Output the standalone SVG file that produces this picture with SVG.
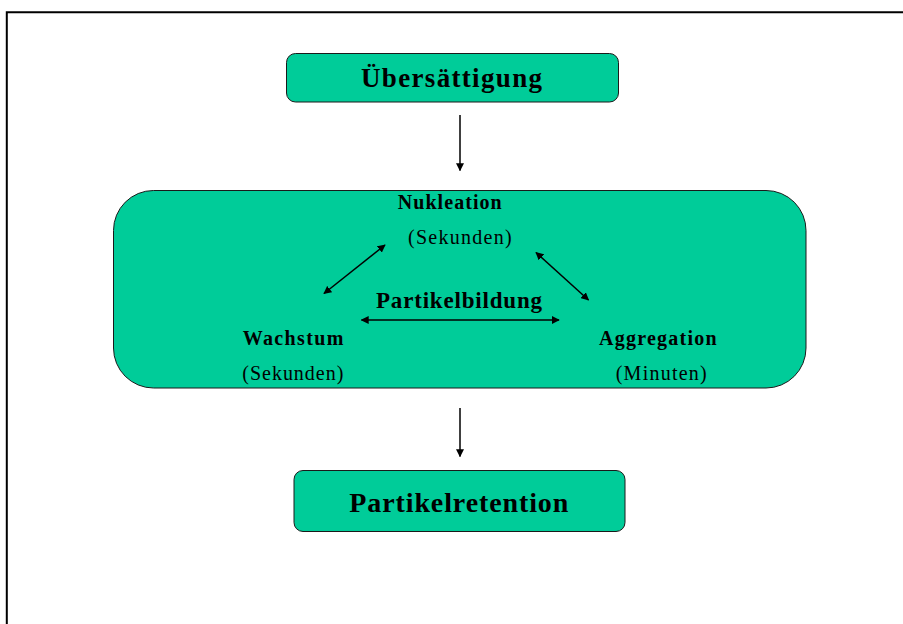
<svg xmlns="http://www.w3.org/2000/svg" width="903" height="624" viewBox="0 0 903 624">
<style>
.box{fill:#00CC99;stroke:#1a1a1a;stroke-width:1}
.t{font-family:"Liberation Serif","Times New Roman",serif;fill:#000;text-anchor:start}
.b{font-weight:bold}
.conn line{stroke:#000;stroke-width:1.5}
.frame{stroke:#000;stroke-width:2;fill:none}
</style>
<defs>
<marker id="ah" viewBox="0 0 10 10" refX="9" refY="5" markerWidth="8" markerHeight="8" markerUnits="userSpaceOnUse" orient="auto-start-reverse">
<path d="M0,0 L10,5 L0,10 z" fill="#000"/>
</marker>
</defs>
<rect width="903" height="624" fill="#fff"/>
<path class="frame" d="M6.8,624 V12.3 H903"/>
<g id="node-uebersaettigung">
<rect class="box" x="286.5" y="53.5" width="332" height="48.5" rx="9"/>
<text class="t b" x="361" y="86.7" font-size="27" textLength="181" lengthAdjust="spacing">Übersättigung</text>
</g>
<g id="node-partikelbildung">
<rect class="box" x="113.5" y="190.5" width="692.5" height="197.5" rx="40"/>
<text class="t b" x="376" y="308.3" font-size="23" textLength="166" lengthAdjust="spacing">Partikelbildung</text>
</g>
<g id="node-nukleation">
<text class="t b" x="397.7" y="209.3" font-size="20" textLength="104" lengthAdjust="spacing">Nukleation</text>
<text class="t" x="408" y="243.5" font-size="20" textLength="103.7" lengthAdjust="spacing">(Sekunden)</text>
</g>
<g id="node-wachstum">
<text class="t b" x="242.7" y="345" font-size="20" textLength="100.6" lengthAdjust="spacing">Wachstum</text>
<text class="t" x="242.3" y="380" font-size="20" textLength="101" lengthAdjust="spacing">(Sekunden)</text>
</g>
<g id="node-aggregation">
<text class="t b" x="599" y="345" font-size="20" textLength="117.7" lengthAdjust="spacing">Aggregation</text>
<text class="t" x="615.7" y="380" font-size="20" textLength="91" lengthAdjust="spacing">(Minuten)</text>
</g>
<g id="node-partikelretention">
<rect class="box" x="294" y="470.5" width="331" height="61" rx="9"/>
<text class="t b" x="349.3" y="511.7" font-size="28" textLength="219" lengthAdjust="spacing">Partikelretention</text>
</g>
<g id="connectors" class="conn">
<line x1="460" y1="115" x2="460" y2="170.5" marker-end="url(#ah)"/>
<line x1="385" y1="245" x2="324" y2="293.5" marker-start="url(#ah)" marker-end="url(#ah)"/>
<line x1="536" y1="252.5" x2="588.5" y2="300" marker-start="url(#ah)" marker-end="url(#ah)"/>
<line x1="361.5" y1="320" x2="559" y2="320" marker-start="url(#ah)" marker-end="url(#ah)"/>
<line x1="460" y1="408" x2="460" y2="456.5" marker-end="url(#ah)"/>
</g>
</svg>
